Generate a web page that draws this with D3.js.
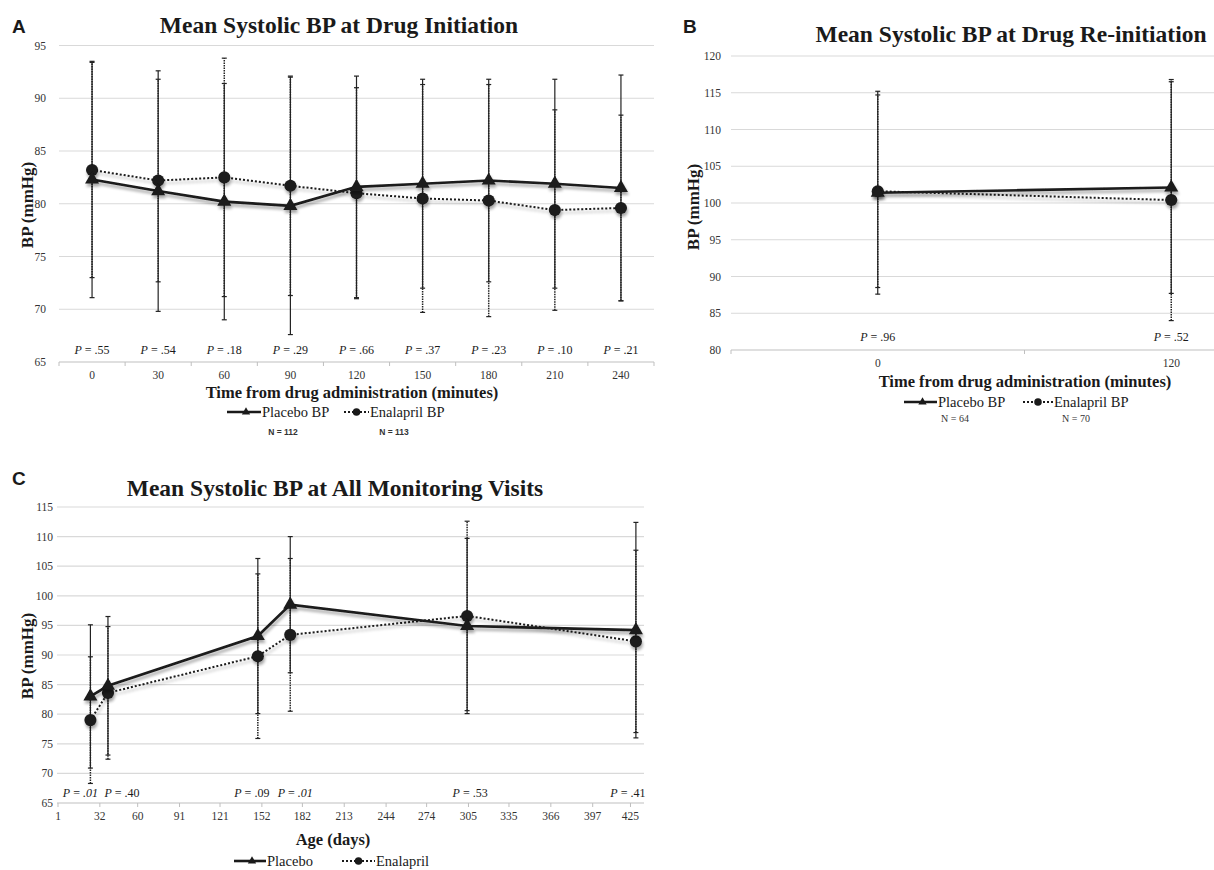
<!DOCTYPE html>
<html>
<head>
<meta charset="utf-8">
<script src="https://cdn.jsdelivr.net/npm/d3@7"></script>
<style>
  body { margin: 0; background: #fff; }
  text { fill: #1a1a1a; }
  .tick-label { font-family: "Liberation Serif", serif; font-size: 11.5px; fill: #333; }
  .title { font-family: "Liberation Serif", serif; font-weight: bold; font-size: 23.5px; }
  .axis-title { font-family: "Liberation Serif", serif; font-weight: bold; font-size: 16.5px; }
  .panel-letter { font-family: "Liberation Sans", Arial, sans-serif; font-weight: bold; font-size: 19px; }
  .pval { font-family: "Liberation Serif", serif; font-size: 12px; }
  .legend { font-family: "Liberation Serif", serif; font-size: 14.5px; }
</style>
</head>
<body>
<script>
// Panel A: drug initiation
var timeA = [0, 30, 60, 90, 120, 150, 180, 210, 240];
var placeboA = [82.3, 81.2, 80.2, 79.8, 81.6, 81.9, 82.2, 81.9, 81.5];
var placeboSdA = [11.2, 11.4, 11.2, 12.2, 10.5, 9.9, 9.6, 9.9, 10.7];
var enalaprilA = [83.2, 82.2, 82.5, 81.7, 81.0, 80.5, 80.3, 79.4, 79.6];
var enalaprilSdA = [10.2, 9.6, 11.3, 10.4, 10.0, 10.8, 11.0, 9.5, 8.8];
var pValuesA = [".55", ".54", ".18", ".29", ".66", ".37", ".23", ".10", ".21"];
var yTicksA = [65, 70, 75, 80, 85, 90, 95];
var nA = ["N = 112", "N = 113"];

// Panel B: drug re-initiation
var timeB = [0, 120];
var placeboB = [101.4, 102.1];
var placeboSdB = [13.8, 14.4];
var enalaprilB = [101.6, 100.4];
var enalaprilSdB = [13.1, 16.4];
var pValuesB = [".96", ".52"];
var yTicksB = [80, 85, 90, 95, 100, 105, 110, 115, 120];
var nB = ["N = 64", "N = 70"];

// Panel C: all monitoring visits
var ageC = [25, 38, 149, 173, 304, 429];
var placeboC = [83.0, 84.8, 93.2, 98.5, 94.9, 94.2];
var placeboSdC = [12.1, 11.7, 13.1, 11.5, 14.8, 18.2];
var enalaprilC = [79.0, 83.6, 89.8, 93.4, 96.6, 92.3];
var enalaprilSdC = [10.7, 11.2, 13.9, 12.9, 16.0, 15.4];
var pValuesC = [".01", ".40", ".09", ".01", ".53", ".41"];
var yTicksC = [65, 70, 75, 80, 85, 90, 95, 100, 105, 110, 115];
var ageTicksC = [1, 32, 60, 91, 121, 152, 182, 213, 244, 274, 305, 335, 366, 397, 425];

var svg = d3.select("body").append("svg").attr("width", 1214).attr("height", 870);

var defs = svg.append("defs");
var f = defs.append("filter").attr("id", "shadow")
  .attr("x", "-20%").attr("y", "-50%").attr("width", "140%").attr("height", "200%");
f.append("feGaussianBlur").attr("in", "SourceAlpha").attr("stdDeviation", 1.6).attr("result", "b");
f.append("feOffset").attr("in", "b").attr("dx", 1).attr("dy", 2.5).attr("result", "o");
f.append("feComponentTransfer").attr("in", "o").attr("result", "s")
  .append("feFuncA").attr("type", "linear").attr("slope", 0.35);
var fm = f.append("feMerge");
fm.append("feMergeNode").attr("in", "s");
fm.append("feMergeNode").attr("in", "SourceGraphic");

function drawGrid(g, y, ticks, x0, x1, labelX) {
  ticks.forEach(function (t, i) {
    g.append("line")
      .attr("x1", x0).attr("x2", x1)
      .attr("y1", y(t)).attr("y2", y(t))
      .attr("stroke", i == 0 ? "#bfbfbf" : "#d9d9d9")
      .attr("stroke-width", 1.2);
    g.append("text").attr("class", "tick-label")
      .attr("x", labelX).attr("y", y(t)).attr("dy", "0.35em")
      .attr("text-anchor", "end").text(t);
  });
}

function drawErrorBars(g, x, y, xs, means, sds, dashed) {
  xs.forEach(function (v, i) {
    var cx = x(v), lo = y(means[i] - sds[i]), hi = y(means[i] + sds[i]);
    g.append("line")
      .attr("x1", cx).attr("x2", cx).attr("y1", lo).attr("y2", hi)
      .attr("stroke", "#222").attr("stroke-width", dashed ? 1.5 : 1.2)
      .attr("stroke-dasharray", dashed ? "1.5,1" : null);
    [lo, hi].forEach(function (yy) {
      g.append("line")
        .attr("x1", cx - 2.5).attr("x2", cx + 2.5).attr("y1", yy).attr("y2", yy)
        .attr("stroke", "#222").attr("stroke-width", 1.2);
    });
  });
}

function drawSeries(g, x, y, xs, means, type) {
  var pts = xs.map(function (v, i) { return [x(v), y(means[i])]; });
  var s = g.append("g").attr("filter", "url(#shadow)");
  s.append("path")
    .attr("d", d3.line()(pts))
    .attr("fill", "none")
    .attr("stroke", "#1a1a1a")
    .attr("stroke-width", type == "triangle" ? 2.6 : 2)
    .attr("stroke-dasharray", type == "triangle" ? null : "2,2");
  var sym = d3.symbol()
    .type(type == "triangle" ? d3.symbolTriangle : d3.symbolCircle)
    .size(type == "triangle" ? 85 : 115);
  s.selectAll(".m").data(pts).enter().append("path")
    .attr("transform", function (d) { return "translate(" + d[0] + "," + d[1] + ")"; })
    .attr("d", sym)
    .attr("fill", "#1a1a1a");
}

function drawPValues(g, x, xs, pvals, yy, offsets) {
  xs.forEach(function (v, i) {
    var t = g.append("text").attr("class", "pval")
      .attr("x", x(v) + (offsets ? offsets[i] : 0)).attr("y", yy)
      .attr("text-anchor", "middle");
    t.append("tspan").attr("font-style", "italic").text("P");
    t.append("tspan").text(" = ");
    t.append("tspan").attr("font-style", pvals[i] == ".01" ? "italic" : null).text(pvals[i]);
  });
}

function drawLegend(g, items, yy) {
  items.forEach(function (it) {
    var x0 = it[0], x1 = it[1], type = it[2], label = it[3];
    g.append("line")
      .attr("x1", x0).attr("x2", x1).attr("y1", yy).attr("y2", yy)
      .attr("stroke", "#1a1a1a")
      .attr("stroke-width", type == "triangle" ? 2.6 : 2)
      .attr("stroke-dasharray", type == "triangle" ? null : "2,2");
    g.append("path")
      .attr("transform", "translate(" + ((x0 + x1) / 2 + (type == "triangle" ? 2 : 0)) + "," + yy + ")")
      .attr("d", d3.symbol().type(type == "triangle" ? d3.symbolTriangle : d3.symbolCircle)
        .size(type == "triangle" ? 30 : 45))
      .attr("fill", "#1a1a1a");
    g.append("text").attr("class", "legend")
      .attr("x", x1 + 1).attr("y", yy).attr("dy", "0.35em").text(label);
  });
}

function yTitle(g, x, y) {
  g.append("text").attr("class", "axis-title")
    .attr("transform", "translate(" + x + "," + y + ") rotate(-90)")
    .attr("text-anchor", "middle").style("font-size", "17px")
    .text("BP (mmHg)");
}

// ---------- Panel A ----------
function drawPanelA() {
  var g = svg.append("g");
  var x = d3.scalePoint().domain(timeA).range([59, 654]).padding(0.5);
  var y = d3.scaleLinear().domain([65, 95]).range([362, 45.5]);

  drawGrid(g, y, yTicksA, 59, 654, 46);
  var step = x.step();
  timeA.concat([null]).forEach(function (v, i) {
    var bx = 59 + i * step;
    g.append("line").attr("x1", bx).attr("x2", bx).attr("y1", y(65)).attr("y2", y(65) + 4)
      .attr("stroke", "#bfbfbf");
  });
  timeA.forEach(function (v) {
    g.append("text").attr("class", "tick-label")
      .attr("x", x(v)).attr("y", 378.5).attr("text-anchor", "middle").text(v);
  });

  drawErrorBars(g, x, y, timeA, placeboA, placeboSdA, false);
  drawErrorBars(g, x, y, timeA, enalaprilA, enalaprilSdA, true);
  drawSeries(g, x, y, timeA, enalaprilA, "circle");
  drawSeries(g, x, y, timeA, placeboA, "triangle");
  drawPValues(g, x, timeA, pValuesA, 354);

  g.append("text").attr("class", "panel-letter").attr("x", 12).attr("y", 33).text("A");
  g.append("text").attr("class", "title").attr("x", 339).attr("y", 33)
    .attr("text-anchor", "middle").text("Mean Systolic BP at Drug Initiation");
  g.append("text").attr("class", "axis-title").attr("x", 352).attr("y", 398)
    .attr("text-anchor", "middle").text("Time from drug administration (minutes)");
  yTitle(g, 33, 205);

  drawLegend(g, [[227, 261, "triangle", "Placebo BP"], [344, 369, "circle", "Enalapril BP"]], 412);
  [283, 394].forEach(function (nx, i) {
    g.append("text").attr("x", nx).attr("y", 435).attr("text-anchor", "middle")
      .style("font-family", "'Liberation Sans', sans-serif").style("font-weight", "bold")
      .style("font-size", "8.5px").style("fill", "#333").text(nA[i]);
  });
}

// ---------- Panel B ----------
function drawPanelB() {
  var g = svg.append("g");
  var x = d3.scalePoint().domain(timeB).range([731, 1318]).padding(0.5);
  var y = d3.scaleLinear().domain([80, 120]).range([350, 56]);

  drawGrid(g, y, yTicksB, 731, 1318, 721);
  [731, 731 + x.step()].forEach(function (bx) {
    g.append("line").attr("x1", bx).attr("x2", bx).attr("y1", y(80)).attr("y2", y(80) + 4)
      .attr("stroke", "#bfbfbf");
  });
  timeB.forEach(function (v) {
    g.append("text").attr("class", "tick-label")
      .attr("x", x(v)).attr("y", 367).attr("text-anchor", "middle").text(v);
  });

  drawErrorBars(g, x, y, timeB, placeboB, placeboSdB, false);
  drawErrorBars(g, x, y, timeB, enalaprilB, enalaprilSdB, true);
  drawSeries(g, x, y, timeB, enalaprilB, "circle");
  drawSeries(g, x, y, timeB, placeboB, "triangle");
  drawPValues(g, x, timeB, pValuesB, 341);

  g.append("text").attr("class", "panel-letter").attr("x", 683).attr("y", 33).text("B");
  g.append("text").attr("class", "title").attr("x", 1011).attr("y", 42)
    .attr("text-anchor", "middle").text("Mean Systolic BP at Drug Re-initiation");
  g.append("text").attr("class", "axis-title").attr("x", 1025).attr("y", 387)
    .attr("text-anchor", "middle").text("Time from drug administration (minutes)");
  yTitle(g, 699, 207);

  drawLegend(g, [[904, 937, "triangle", "Placebo BP"], [1023, 1053, "circle", "Enalapril BP"]], 402);
  [955, 1076].forEach(function (nx, i) {
    g.append("text").attr("x", nx).attr("y", 422).attr("text-anchor", "middle")
      .style("font-family", "'Liberation Serif', serif")
      .style("font-size", "10px").style("fill", "#333").text(nB[i]);
  });
}

// ---------- Panel C ----------
function drawPanelC() {
  var g = svg.append("g");
  var x = d3.scaleLinear().domain([1, 435]).range([58, 644]);
  var y = d3.scaleLinear().domain([65, 115]).range([803, 507]);

  drawGrid(g, y, yTicksC, 57, 644, 53);
  ageTicksC.forEach(function (v) {
    g.append("line").attr("x1", x(v)).attr("x2", x(v)).attr("y1", y(65)).attr("y2", y(65) + 4)
      .attr("stroke", "#bfbfbf");
    g.append("text").attr("class", "tick-label")
      .attr("x", x(v)).attr("y", 820).attr("text-anchor", "middle").text(v);
  });

  drawErrorBars(g, x, y, ageC, placeboC, placeboSdC, false);
  drawErrorBars(g, x, y, ageC, enalaprilC, enalaprilSdC, true);
  drawSeries(g, x, y, ageC, enalaprilC, "circle");
  drawSeries(g, x, y, ageC, placeboC, "triangle");
  drawPValues(g, x, ageC, pValuesC, 797, [-10, 14, -6, 5, 3, -8]);

  g.append("text").attr("class", "panel-letter").attr("x", 12).attr("y", 485).text("C");
  g.append("text").attr("class", "title").attr("x", 335).attr("y", 496)
    .attr("text-anchor", "middle").text("Mean Systolic BP at All Monitoring Visits");
  g.append("text").attr("class", "axis-title").attr("x", 333).attr("y", 845)
    .attr("text-anchor", "middle").text("Age (days)");
  yTitle(g, 33, 656);

  drawLegend(g, [[234, 266, "triangle", "Placebo"], [342, 375, "circle", "Enalapril"]], 861);
}

drawPanelA();
drawPanelB();
drawPanelC();
</script>
</body>
</html>
